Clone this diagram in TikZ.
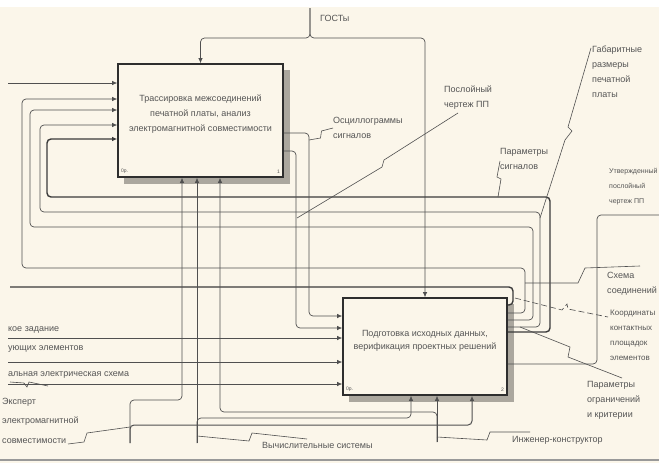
\documentclass[tikz,border=0pt]{standalone}
\usepackage{fontspec}
\setmainfont{Liberation Sans}
\usetikzlibrary{arrows.meta}
\definecolor{bg}{HTML}{FBF6EA}
\definecolor{ln}{HTML}{505050}
\definecolor{hv}{HTML}{3A3A3A}
\definecolor{tx}{HTML}{555555}
\definecolor{bx}{HTML}{2E2E2E}
\definecolor{shd}{HTML}{ABA79E}
\begin{document}
\begin{tikzpicture}[x=1pt,y=-1pt,
  font=\fontsize{9}{15}\selectfont,
  conn/.style={draw=ln, line width=0.7pt, rounded corners=4pt},
  heavy/.style={draw=hv, line width=1.4pt, rounded corners=4pt},
  arr/.style={-{Latex[length=5pt,width=4.5pt]}},
  procbox/.style={draw=bx, line width=1.6pt, fill=bg, inner sep=0pt},
  boxtext/.style={text=tx, align=center, inner sep=0pt},
  lbl/.style={text=tx, align=left, inner sep=0pt, anchor=north west},
  cut/.style={text=tx, inner sep=0pt, anchor=mid west},
  zig/.style={draw=ln, line width=0.6pt},
  cornerlbl/.style={font=\fontsize{5}{6}\selectfont, text=tx, inner sep=0pt}
]
\useasboundingbox (0,0) rectangle (659,463);
\clip (0,0) rectangle (659,463);
\fill[bg] (0,0) rectangle (659,463);
\fill[white] (0,0) rectangle (659,7);
\draw[line width=1.6pt, draw=gray!80] (0,460) -- (659,460);

% shadows
\fill[shd] (283,70) rectangle (290,184);
\fill[shd] (124,177) rectangle (290,184);
\fill[shd] (507,304) rectangle (514,402);
\fill[shd] (349,395) rectangle (514,402);

% boxes
\node[procbox, minimum width=165pt, minimum height=113pt] (A1) at (200.5,120.5) {};
\node[boxtext] (A1t) at (200.5,114) {Трассировка межсоединений\\печатной платы, анализ\\электромагнитной совместимости};
\node[cornerlbl, anchor=south west] (A1c) at (121,174) {0р.};
\node[cornerlbl, anchor=south east] (A1n) at (280,174) {1};
\node[procbox, minimum width=164pt, minimum height=97pt] (A2) at (425,346.5) {};
\node[boxtext, font=\fontsize{9}{13}\selectfont] (A2t) at (425,341) {Подготовка исходных данных,\\верификация проектных решений};
\node[cornerlbl, anchor=south west] (A2c) at (346,392) {0р.};
\node[cornerlbl, anchor=south east] (A2n) at (504,392) {2};

% control: ГОСТы
\coordinate (gost) at (310,8);
\draw[conn, arr] (gost) |- (A1.north |- 0,38) -- (A1.north);
\draw[conn, arr] (gost) |- (A2.north |- 0,38) -- (A2.north);
\node[lbl] (gostl) at (320,15) {ГОСТы};

% inputs of box 1
\coordinate (in0) at (8,83);
\draw[conn, arr] (in0) -- (A1.west |- in0);
\draw[heavy, arr] (A2.east |- 0,332) -| (550,197) -| (47,139) -- (A1.west |- 0,139);
\draw[conn, arr] (A2.east |- 0,327) -| (540,212) -| (40,125) -- (A1.west |- 0,125);
\draw[conn, arr] (A2.east |- 0,320) -| (533,227) -| (30,110) -- (A1.west |- 0,110);
\draw[conn, arr] (A2.east |- 0,313) -| (525,268) -| (22,99) -- (A1.west |- 0,99);
\coordinate (outL) at (10,287);
\draw[heavy] (A2.east |- 0,305) -| (513,287) -- (outL);

% outputs of box 1 to box 2
\draw[conn, arr] (A1.east |- 0,133) -| (309,316) -- (A2.west |- 0,316);
\draw[conn, arr] (A1.east |- 0,151) -| (296,328) -- (A2.west |- 0,328);

% inputs of box 2 from the left
\coordinate (tz) at (8,338);
\coordinate (pe) at (8,362);
\coordinate (sh) at (8,384);
\draw[conn, arr] (tz) -- (A2.west |- tz);
\draw[conn, arr] (pe) -- (A2.west |- pe);
\draw[conn, arr] (sh) -- (A2.west |- sh);
\node[cut] (tzl) at (8,329) {кое задание};
\node[cut] (pel) at (8,348) {ующих элементов};
\node[cut] (shl) at (8,374) {альная электрическая схема};
\draw[zig] (10,382) -- (24,383) -- (27,387) -- (29,382) -- (48,386);

% output of box 2 to the right
\coordinate (utv) at (659,215);
\draw[conn] (A2.east |- 0,364) -| (597,215) -- (utv);

% mechanisms
\coordinate (exp) at (130,443);
\coordinate (vs) at (197,443);
\coordinate (ing) at (437,442);
\draw[conn, arr] (exp) |- (182,400) -- (A1.south -| 182,0);
\draw[conn, arr, line width=1pt] (exp) |- (472,425) -- (A2.south -| 472,0);
\draw[conn, arr] (vs) -- (A1.south -| vs);
\draw[conn, arr] (vs) |- (411,418) -- (A2.south -| 411,0);
\draw[conn, arr] (ing) -- (A2.south -| ing);
\draw[conn, arr] (ing) |- (220,412) -- (A1.south -| 220,0);

% labels with squiggles
\node[lbl] (oscl) at (333,117) {Осциллограммы\\сигналов};
\draw[zig] (309,140) -- (320.5,138) -- (321.5,131) -- (333,128);
\node[lbl] (posl) at (444,86) {Послойный\\чертеж ПП};
\draw[zig] (458,113) -- (384,160) -- (382,167) -- (297,218);
\node[lbl] (gabl) at (592,46) {Габаритные\\размеры\\печатной\\платы};
\draw[zig] (591,48) -- (568,127) -- (572,131) -- (565,140) -- (540,218);
\node[lbl] (parl) at (500,148) {Параметры\\сигналов};
\draw[zig] (500,161) -- (497,177) -- (501,179) -- (498,197);
\node[lbl, font=\fontsize{7}{15}\selectfont] (utvl) at (609,168) {Утвержденный\\послойный\\чертеж ПП};
\node[lbl] (scl) at (607,272) {Схема\\соединений};
\draw[zig] (525,283) -- (578,283) -- (585,268) -- (640,266);
\node[lbl, font=\fontsize{8}{15}\selectfont] (kool) at (610,310) {Координаты\\контактных\\площадок\\элементов};
\draw[zig, dash pattern=on 6pt off 3pt] (515,298) -- (562,310) -- (567,304) -- (568,309) -- (608,317);
\node[lbl] (ogrl) at (587,381) {Параметры\\ограничений\\и критерии};
\draw[zig] (520,327) -- (570,347) -- (568,357) -- (622,378);
\node[lbl, font=\fontsize{9}{19.5}\selectfont] (expl) at (2,398) {Эксперт\\электромагнитной\\совместимости};
\draw[zig] (68,444) -- (84,442) -- (87,433) -- (130,427);
\node[lbl] (vsl) at (262,442) {Вычислительные системы};
\draw[zig] (197,436) -- (249,441) -- (252,433) -- (307,439);
\node[lbl] (ingl) at (512,436) {Инженер-конструктор};
\draw[zig] (437,437) -- (487,440) -- (490,432) -- (530,432);
\end{tikzpicture}
\end{document}
